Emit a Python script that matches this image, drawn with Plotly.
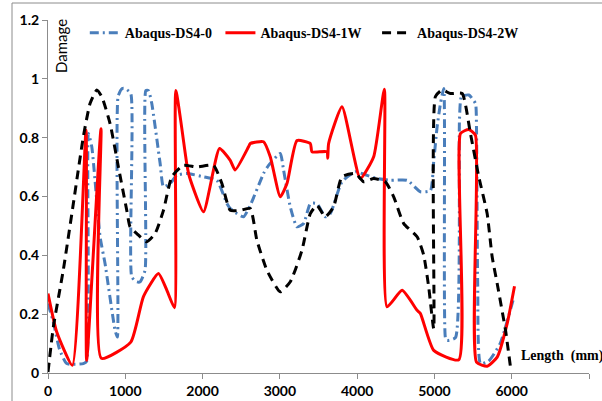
import plotly.graph_objects as go

# Abaqus-DS4-0 (blue, dash-dot)
x_ds0 = [0, 69, 150, 242, 457, 500, 522, 566, 674, 738, 868, 898, 907, 960, 997, 1071, 1084,
         1149, 1192, 1256, 1266, 1300, 1343, 1451, 1494, 1580, 1667, 1796, 2012, 2185, 2315,
         2358, 2444, 2530, 2617, 2789, 2854, 3005, 3048, 3135, 3221, 3308, 3394, 3480, 3588,
         3653, 3804, 3977, 4128, 4258, 4430, 4646, 4819, 4948, 4991, 5035, 5078, 5121, 5142,
         5164, 5272, 5324, 5350, 5446, 5531, 5544, 5560, 5596, 5700, 5850, 6020]
y_ds0 = [0.236, 0.173, 0.08, 0.032, 0.032, 0.04, 0.814, 0.77, 0.463, 0.372, 0.145, 0.122, 0.94,
         0.967, 0.967, 0.95, 0.326, 0.31, 0.31, 0.35, 0.96, 0.96, 0.916, 0.712, 0.633, 0.644,
         0.672, 0.678, 0.667, 0.655, 0.576, 0.559, 0.542, 0.531, 0.57, 0.678, 0.706, 0.746,
         0.69, 0.565, 0.497, 0.508, 0.576, 0.576, 0.531, 0.542, 0.65, 0.684, 0.672, 0.661,
         0.655, 0.655, 0.616, 0.62, 0.72, 0.837, 0.916, 0.967, 0.12, 0.111, 0.12, 0.86, 0.94,
         0.945, 0.916, 0.837, 0.3, 0.032, 0.04, 0.1, 0.25]

# Abaqus-DS4-1W (red, solid)
x_ds1 = [0, 112, 315, 492, 500, 686, 690, 1071, 1235, 1429, 1540, 1636, 1654, 1796, 1830, 2012,
         2219, 2358, 2422, 2595, 2617, 2789, 2876, 3005, 3092, 3221, 3394, 3416, 3610, 3620,
         3631, 3804, 4041, 4214, 4352, 4387, 4582, 4776, 4819, 4991, 5315, 5337, 5444, 5531,
         5544, 5683, 5812, 5941, 6036]
y_ds1 = [0.27, 0.14, 0.026, 0.825, 0.043, 0.83, 0.05, 0.105, 0.26, 0.338, 0.28, 0.222, 0.96,
         0.71, 0.667, 0.548, 0.763, 0.723, 0.69, 0.769, 0.78, 0.786, 0.735, 0.599, 0.644, 0.79,
         0.78, 0.752, 0.752, 0.73, 0.78, 0.905, 0.661, 0.735, 0.965, 0.225, 0.281, 0.213, 0.202,
         0.077, 0.045, 0.814, 0.828, 0.808, 0.037, 0.023, 0.054, 0.168, 0.295]

# Abaqus-DS4-2W (black, dashed)
x_ds2 = [0, 69, 198, 328, 457, 544, 631, 695, 803, 911, 1019, 1062, 1149, 1278, 1386, 1494,
         1602, 1753, 1926, 2141, 2250, 2358, 2487, 2617, 2703, 2833, 3005, 3135, 3286, 3394,
         3480, 3588, 3696, 3804, 3977, 4085, 4214, 4365, 4473, 4603, 4776, 4862, 4927, 4991,
         5013, 5099, 5207, 5358, 5466, 5574, 5682, 5747, 5812, 5920, 5984]
y_ds2 = [0.003, 0.156, 0.35, 0.576, 0.803, 0.916, 0.962, 0.94, 0.848, 0.70, 0.553, 0.497, 0.474,
         0.446, 0.474, 0.553, 0.667, 0.706, 0.70, 0.706, 0.644, 0.553, 0.553, 0.559, 0.451,
         0.349, 0.276, 0.31, 0.417, 0.542, 0.57, 0.531, 0.565, 0.667, 0.678, 0.65, 0.661, 0.65,
         0.599, 0.508, 0.463, 0.40, 0.29, 0.15, 0.94, 0.962, 0.95, 0.95, 0.814, 0.667, 0.542,
         0.395, 0.304, 0.145, 0.02]

x_ticks = [0, 1000, 2000, 3000, 4000, 5000, 6000, 7000]
y_ticks = [0, 0.2, 0.4, 0.6, 0.8, 1, 1.2]

NB = "\u00a0"

fig = go.Figure()
fig.add_trace(go.Scatter(x=x_ds0, y=y_ds0, mode="lines", name="Abaqus-DS4-0" + NB,
                         line=dict(color="#4A7EBB", width=3, dash="9px,4px,2px,4px",
                                   shape="spline", smoothing=0.5)))
fig.add_trace(go.Scatter(x=x_ds1, y=y_ds1, mode="lines", name="Abaqus-DS4-1W" + NB * 3,
                         line=dict(color="#FF0000", width=3, shape="spline", smoothing=0.5)))
fig.add_trace(go.Scatter(x=x_ds2, y=y_ds2, mode="lines", name="Abaqus-DS4-2W",
                         line=dict(color="#000000", width=3, dash="9px,6px",
                                   shape="spline", smoothing=0.5)))

axis_common = dict(showgrid=False, zeroline=False, showline=True, linecolor="#8C8C8C",
                   linewidth=1, ticks="outside", ticklen=5, tickcolor="#8C8C8C",
                   automargin=False,
                   tickfont=dict(family="Lato", size=14, color="#000000", weight="bold"))
fig.update_xaxes(range=[0, 7000], tickvals=x_ticks, ticktext=[str(v) for v in x_ticks],
                 **axis_common)
fig.update_yaxes(range=[0, 1.2], tickvals=y_ticks,
                 ticktext=["0", "0.2", "0.4", "0.6", "0.8", "1", "1.2"], **axis_common)

fig.update_layout(
    width=602, height=401,
    margin=dict(l=48, r=13, t=20, b=28),
    plot_bgcolor="white", paper_bgcolor="white",
    showlegend=True,
    legend=dict(orientation="h", x=0.068, y=0.963, xanchor="left", yanchor="middle",
                font=dict(family="Liberation Serif", size=14, color="#000000", weight="bold"),
                bgcolor="rgba(0,0,0,0)"),
    annotations=[
        dict(text="Damage", xref="paper", yref="paper", x=(61 - 48) / 541, y=(373 - 46) / 353,
             showarrow=False, textangle=-90, xanchor="center", yanchor="middle",
             font=dict(family="Lato", size=15, color="#000000")),
        dict(text="Length  (mm)", xref="paper", yref="paper", x=(519 - 48) / 541,
             y=(373 - 356) / 353, showarrow=False, xanchor="left", yanchor="middle",
             font=dict(family="Liberation Serif", size=14, color="#000000", weight="bold")),
    ],
    shapes=[dict(type="rect", xref="paper", yref="paper", x0=(12 - 48) / 541,
                 x1=(610 - 48) / 541, y0=(373 - 410) / 353, y1=(373 - 3) / 353,
                 line=dict(color="#8C8C8C", width=1), layer="below")],
)

fig.write_html("out.html")
